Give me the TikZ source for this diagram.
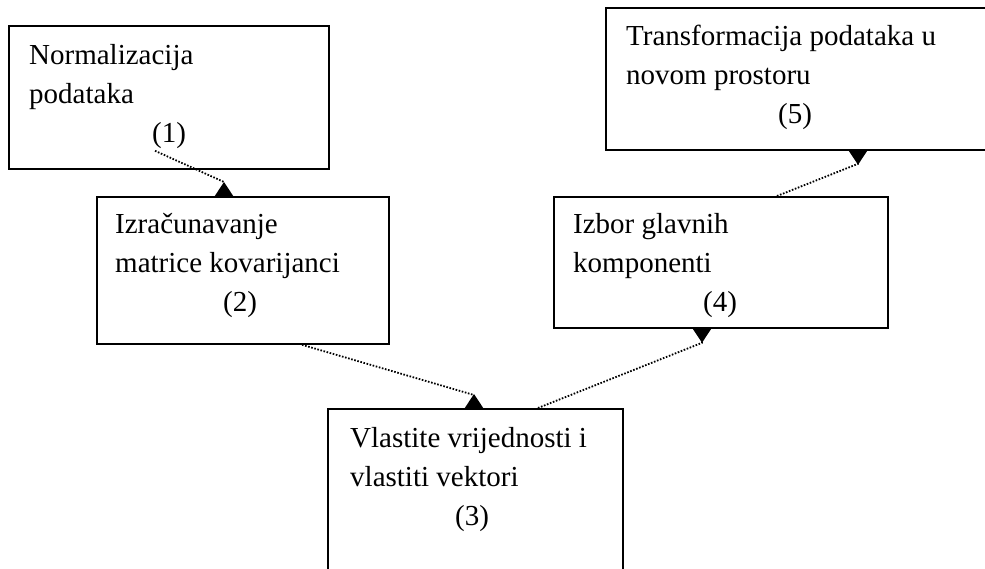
\documentclass[tikz,border=0pt]{standalone}
\usepackage{fontspec}
\setmainfont{Liberation Serif}
\usetikzlibrary{arrows.meta,positioning}
\tikzset{
  stage/.style={draw, line width=1.8pt, fill=white, anchor=north west, inner sep=0pt},
  stagetext/.style={anchor=north west, inner sep=0pt, align=left, font=\fontsize{29pt}{39pt}\selectfont},
  flow/.style={line width=1.8pt, dash pattern=on 1.6pt off 1.6pt, -{Triangle[reversed, length=14pt, width=18pt]}}
}
\begin{document}
\begin{tikzpicture}[x=1pt,y=1pt]
\useasboundingbox (0,0) rectangle (985,-568);
\clip (0,0) rectangle (985,-568);
\node[stage, minimum width=320pt, minimum height=143pt] (b1) at (8,-25) {};
\node[stage, minimum width=292pt, minimum height=147pt] (b2) at (96,-196) {};
\node[stage, minimum width=295pt, minimum height=200pt] (b3) at (327,-408) {};
\node[stage, minimum width=334pt, minimum height=131pt] (b4) at (553,-196) {};
\node[stage, minimum width=420pt, minimum height=142pt] (b5) at (605,-7) {};
\node[stagetext, below right=19pt and 21pt of b1.north west] (t1) {Normalizacija\\podataka\\\hspace*{123pt}(1)};
\node[stagetext, below right=17pt and 19pt of b2.north west] (t2) {Izračunavanje\\matrice kovarijanci\\\hspace*{108pt}(2)};
\node[stagetext, below right=19pt and 23pt of b3.north west] (t3) {Vlastite vrijednosti i\\vlastiti vektori\\\hspace*{105pt}(3)};
\node[stagetext, below right=17pt and 20pt of b4.north west] (t4) {Izbor glavnih\\komponenti\\\hspace*{130pt}(4)};
\node[stagetext, below right=18pt and 21pt of b5.north west] (t5) {Transformacija podataka u\\novom prostoru\\\hspace*{152pt}(5)};
\draw[flow] ([xshift=147pt,yshift=19pt]b1.south west) -- ([xshift=128pt,yshift=14pt]b2.north west) -- ([xshift=128pt]b2.north west);
\draw[flow] ([xshift=206pt]b2.south west) -- ([xshift=147pt,yshift=13pt]b3.north west) -- ([xshift=147pt]b3.north west);
\draw[flow] ([xshift=211pt]b3.north west) -- ([xshift=149pt,yshift=-14pt]b4.south west) -- ([xshift=149pt]b4.south west);
\draw[flow] ([xshift=224pt]b4.north west) -- ([xshift=253pt,yshift=-13pt]b5.south west) -- ([xshift=253pt]b5.south west);
\end{tikzpicture}
\end{document}
